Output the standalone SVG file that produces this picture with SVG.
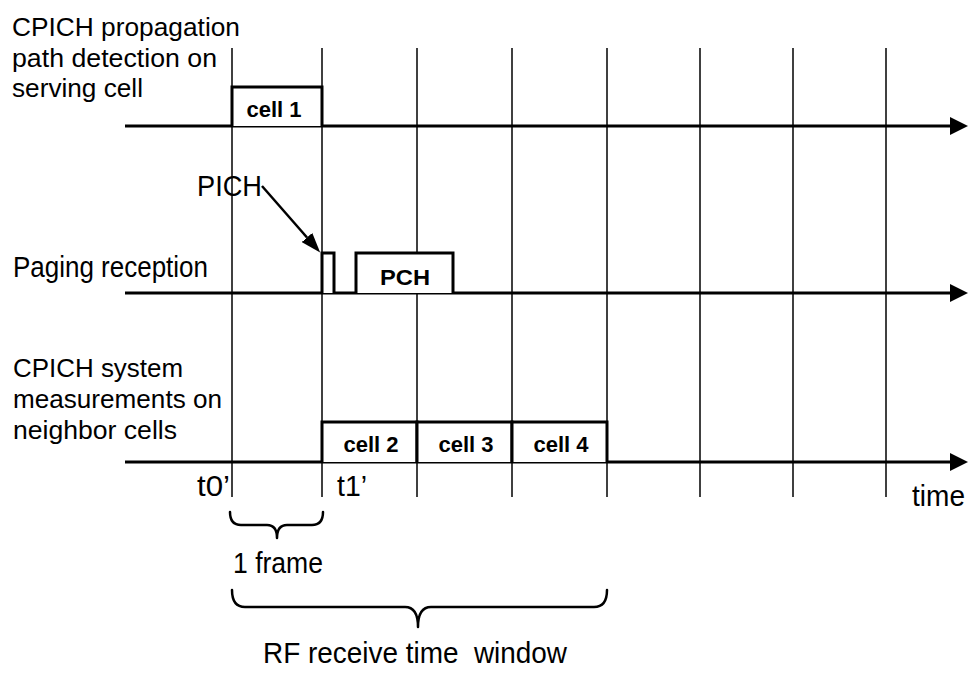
<svg xmlns="http://www.w3.org/2000/svg" width="969" height="673" viewBox="0 0 969 673">
<style>
.lbl{font-family:"Liberation Sans Narrow","Liberation Sans",Arial,sans-serif;font-size:30px;fill:#000}
.ml{font-size:26px}
.bl{font-family:"Liberation Sans","Arial",sans-serif;font-weight:bold;font-size:22px;fill:#000;text-anchor:middle}
.grid{stroke:#000;stroke-width:1.5;fill:none}
.axis{stroke:#000;stroke-width:3;fill:none}
.box{stroke:#000;stroke-width:3;fill:#fff}
.brace{stroke:#000;stroke-width:2.5;fill:none;stroke-linejoin:round;stroke-linecap:round}
</style>
<defs>
<marker id="ah" viewBox="0 0 18 18" refX="2" refY="9" markerWidth="18" markerHeight="18" markerUnits="userSpaceOnUse" orient="auto">
<path d="M0,0 L18,9 L0,18 z" fill="#000"/>
</marker>
<marker id="ah2" viewBox="0 0 20 14" refX="0" refY="7" markerWidth="20" markerHeight="14" markerUnits="userSpaceOnUse" orient="auto">
<path d="M0,0 L20,7 L0,14 z" fill="#000"/>
</marker>
</defs>
<rect width="969" height="673" fill="#fff"/>

<g id="grid">
<line class="grid" x1="232" y1="48" x2="232" y2="497"/>
<line class="grid" x1="322" y1="48" x2="322" y2="497"/>
<line class="grid" x1="417" y1="48" x2="417" y2="497"/>
<line class="grid" x1="512" y1="48" x2="512" y2="497"/>
<line class="grid" x1="607" y1="48" x2="607" y2="497"/>
<line class="grid" x1="700" y1="48" x2="700" y2="497"/>
<line class="grid" x1="793" y1="48" x2="793" y2="497"/>
<line class="grid" x1="886" y1="48" x2="886" y2="497"/>
</g>

<g id="connectors">
<line class="axis" x1="125" y1="126" x2="952" y2="126" marker-end="url(#ah)"/>
<line class="axis" x1="125" y1="293" x2="952" y2="293" marker-end="url(#ah)"/>
<line class="axis" x1="125" y1="462" x2="952" y2="462" marker-end="url(#ah)"/>
<line stroke="#000" stroke-width="2.5" x1="262" y1="186" x2="307" y2="237.5" marker-end="url(#ah2)"/>
</g>

<g id="label-serving">
<text class="lbl ml" x="12" y="36" textLength="228" lengthAdjust="spacingAndGlyphs">CPICH propagation</text>
<text class="lbl ml" x="12" y="67" textLength="205" lengthAdjust="spacingAndGlyphs">path detection on</text>
<text class="lbl ml" x="12" y="97" textLength="131" lengthAdjust="spacingAndGlyphs">serving cell</text>
</g>
<g id="label-paging">
<text class="lbl" x="13" y="277" textLength="195" lengthAdjust="spacingAndGlyphs">Paging reception</text>
</g>
<g id="label-neighbor">
<text class="lbl ml" x="13" y="377" textLength="170" lengthAdjust="spacingAndGlyphs">CPICH system</text>
<text class="lbl ml" x="13" y="408" textLength="209" lengthAdjust="spacingAndGlyphs">measurements on</text>
<text class="lbl ml" x="13" y="439" textLength="164" lengthAdjust="spacingAndGlyphs">neighbor cells</text>
</g>

<g id="cell1">
<polyline class="box" points="232,126 232,87 322,87 322,126"/>
<text class="bl" x="274" y="117">cell 1</text>
</g>

<g id="pich">
<polyline class="box" fill="none" points="322,293 322,253 334,253 334,293"/>
<text class="lbl" x="197" y="196" textLength="65" lengthAdjust="spacingAndGlyphs">PICH</text>
</g>

<g id="pch">
<polyline class="box" points="356,293 356,253 453,253 453,293"/>
<text class="bl" x="405" y="285" font-size="25" textLength="50" lengthAdjust="spacingAndGlyphs">PCH</text>
</g>

<g id="cell2">
<polyline class="box" points="322,462 322,422 417,422 417,462"/>
<text class="bl" x="371" y="452">cell 2</text>
</g>
<g id="cell3">
<polyline class="box" points="417,462 417,422 512,422 512,462"/>
<text class="bl" x="466" y="452">cell 3</text>
</g>
<g id="cell4">
<polyline class="box" points="512,462 512,422 607,422 607,462"/>
<text class="bl" x="561" y="452">cell 4</text>
</g>

<g id="time-labels">
<text class="lbl" x="197" y="496" textLength="33" lengthAdjust="spacingAndGlyphs">t0’</text>
<text class="lbl" x="337" y="496" textLength="30" lengthAdjust="spacingAndGlyphs">t1’</text>
<text class="lbl" x="912" y="506" textLength="53" lengthAdjust="spacingAndGlyphs">time</text>
</g>

<g id="frame-brace">
<path class="brace" d="M230,512 Q230,525 241,525 L267,525 Q277,525 277,538 Q277,525 287,525 L312,525 Q323,525 323,512"/>
<text class="lbl" x="233" y="573" textLength="90" lengthAdjust="spacingAndGlyphs">1 frame</text>
</g>

<g id="rf-brace">
<path class="brace" d="M232,590 Q232,607 245,607 L405,607 Q418,607 418,627 Q418,607 431,607 L594,607 Q607,607 607,590"/>
<text class="lbl" x="263" y="663" textLength="304" lengthAdjust="spacingAndGlyphs" xml:space="preserve">RF receive time  window</text>
</g>
</svg>
